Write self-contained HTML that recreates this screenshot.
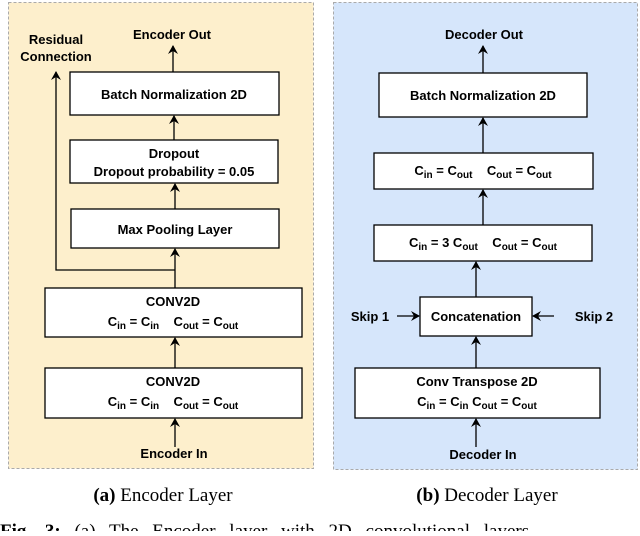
<!DOCTYPE html>
<html><head><style>
body{margin:0;width:640px;height:531px;overflow:hidden;background:#fff}
svg text{font-family:"Liberation Sans",sans-serif;font-weight:bold;font-size:13px;fill:#000;white-space:pre}
.cap{font-family:"Liberation Serif",serif;font-weight:normal;font-size:19px}
</style></head><body>
<svg width="640" height="531" viewBox="0 0 640 531" xmlns="http://www.w3.org/2000/svg" xml:space="preserve">
<defs><marker id="a" markerWidth="10" markerHeight="10" refX="8" refY="5" orient="auto" markerUnits="userSpaceOnUse"><path d="M0,0 L9,5 L0,10 L3,5 Z" fill="#000"/></marker></defs>
<rect x="8.5" y="2.5" width="305" height="466" fill="#fdefcc" stroke="#aaa" stroke-dasharray="3,2"/>
<rect x="333.5" y="2.5" width="304" height="467" fill="#d6e6fb" stroke="#aaa" stroke-dasharray="3,2"/>
<g fill="#fff" stroke="#000" stroke-width="1.3">
<rect x="70" y="72" width="209" height="43"/>
<rect x="70" y="140" width="208" height="43"/>
<rect x="71" y="209" width="208" height="39"/>
<rect x="45" y="288" width="257" height="49"/>
<rect x="45" y="368" width="257" height="50"/>
<rect x="379" y="73" width="208" height="44"/>
<rect x="374" y="153" width="219" height="36"/>
<rect x="374" y="225" width="218" height="36"/>
<rect x="420" y="297" width="112" height="39"/>
<rect x="355" y="368" width="245" height="50"/>
</g>
<g stroke="#000" stroke-width="1.3" fill="none" marker-end="url(#a)">
<line x1="173" y1="72" x2="173" y2="46"/>
<line x1="174" y1="140" x2="174" y2="116"/>
<line x1="175" y1="209" x2="175" y2="184"/>
<line x1="175" y1="288" x2="175" y2="249"/>
<line x1="175" y1="368" x2="175" y2="338"/>
<line x1="175" y1="447" x2="175" y2="419"/>
<polyline points="175,270 56,270 56,72"/>
<line x1="483" y1="73" x2="483" y2="46"/>
<line x1="483" y1="153" x2="483" y2="118"/>
<line x1="483" y1="225" x2="483" y2="190"/>
<line x1="476" y1="297" x2="476" y2="262"/>
<line x1="476" y1="368" x2="476" y2="337"/>
<line x1="476" y1="447" x2="476" y2="419"/>
<line x1="397" y1="316" x2="419" y2="316"/>
<line x1="554" y1="316" x2="533" y2="316"/>
</g>
<g text-anchor="middle">
<text x="172" y="39">Encoder Out</text>
<text x="56" y="44">Residual</text>
<text x="56" y="61">Connection</text>
<text x="174" y="99">Batch Normalization 2D</text>
<text x="174" y="158">Dropout</text>
<text x="174" y="176">Dropout probability = 0.05</text>
<text x="175" y="234">Max Pooling Layer</text>
<text x="173" y="306">CONV2D</text>
<text x="173" y="326">C<tspan font-size="10" dy="3">in</tspan><tspan dy="-3"> = C</tspan><tspan font-size="10" dy="3">in</tspan><tspan dy="-3">    C</tspan><tspan font-size="10" dy="3">out</tspan><tspan dy="-3"> = C</tspan><tspan font-size="10" dy="3">out</tspan></text>
<text x="173" y="386">CONV2D</text>
<text x="173" y="406">C<tspan font-size="10" dy="3">in</tspan><tspan dy="-3"> = C</tspan><tspan font-size="10" dy="3">in</tspan><tspan dy="-3">    C</tspan><tspan font-size="10" dy="3">out</tspan><tspan dy="-3"> = C</tspan><tspan font-size="10" dy="3">out</tspan></text>
<text x="174" y="458">Encoder In</text>
<text x="484" y="39">Decoder Out</text>
<text x="483" y="100">Batch Normalization 2D</text>
<text x="483" y="175">C<tspan font-size="10" dy="3">in</tspan><tspan dy="-3"> = C</tspan><tspan font-size="10" dy="3">out</tspan><tspan dy="-3">    C</tspan><tspan font-size="10" dy="3">out</tspan><tspan dy="-3"> = C</tspan><tspan font-size="10" dy="3">out</tspan></text>
<text x="483" y="247">C<tspan font-size="10" dy="3">in</tspan><tspan dy="-3"> = 3 C</tspan><tspan font-size="10" dy="3">out</tspan><tspan dy="-3">    C</tspan><tspan font-size="10" dy="3">out</tspan><tspan dy="-3"> = C</tspan><tspan font-size="10" dy="3">out</tspan></text>
<text x="476" y="321">Concatenation</text>
<text x="370" y="321">Skip 1</text>
<text x="594" y="321">Skip 2</text>
<text x="477" y="386">Conv Transpose 2D</text>
<text x="477" y="406">C<tspan font-size="10" dy="3">in</tspan><tspan dy="-3"> = C</tspan><tspan font-size="10" dy="3">in</tspan><tspan dy="-3"> C</tspan><tspan font-size="10" dy="3">out</tspan><tspan dy="-3"> = C</tspan><tspan font-size="10" dy="3">out</tspan></text>
<text x="483" y="459">Decoder In</text>
<text class="cap" x="163" y="501"><tspan font-weight="bold">(a)</tspan> Encoder Layer</text>
<text class="cap" x="487" y="501"><tspan font-weight="bold">(b)</tspan> Decoder Layer</text>
</g>
<text class="cap" x="0" y="537" font-size="21" word-spacing="9"><tspan font-weight="bold">Fig. 3:</tspan> (a) The Encoder layer with 2D convolutional layers</text>
</svg>
</body></html>
